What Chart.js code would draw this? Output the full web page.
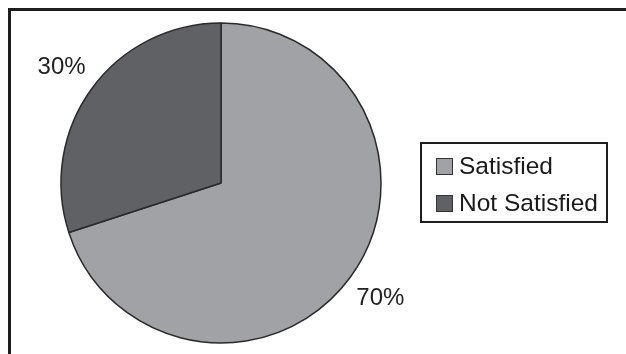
<!DOCTYPE html>
<html>
<head>
<meta charset="utf-8">
<script src="https://cdn.jsdelivr.net/npm/chart.js@4/dist/chart.umd.min.js"></script>
<style>
  html, body { margin: 0; padding: 0; background: #fff; }
  #wrap { position: relative; width: 626px; height: 354px; }
</style>
</head>
<body>
<div id="wrap"><canvas id="c" width="626" height="354"></canvas></div>
<script>
// Survey result: share of respondents
const categories = ['Satisfied', 'Not Satisfied'];
const shares = [70, 30];
const sliceColors = ['#a0a2a5', '#5f6164'];

const FONT = '"Liberation Sans", Arial, Helvetica, sans-serif';

// Open frame: top and left rule only
const framePlugin = {
  id: 'frame',
  beforeDraw(chart) {
    const ctx = chart.ctx;
    ctx.save();
    ctx.fillStyle = '#1e1e1e';
    ctx.fillRect(8, 8, chart.width - 8, 3);
    ctx.fillRect(8, 8, 3, chart.height - 8);
    ctx.restore();
  }
};

// Percentage labels placed outside each slice
const percentLabels = {
  id: 'percentLabels',
  afterDatasetsDraw(chart) {
    const ctx = chart.ctx;
    const meta = chart.getDatasetMeta(0);
    const values = chart.data.datasets[0].data;
    const total = values.reduce((a, b) => a + b, 0);
    ctx.save();
    ctx.font = '24px ' + FONT;
    ctx.fillStyle = '#222';
    ctx.textAlign = 'center';
    ctx.textBaseline = 'middle';
    meta.data.forEach((arc, i) => {
      const p = arc.getProps(['x', 'y', 'startAngle', 'endAngle', 'outerRadius'], true);
      const mid = (p.startAngle + p.endAngle) / 2;
      const r = p.outerRadius + 37;
      const pct = Math.round(values[i] / total * 100) + '%';
      ctx.fillText(pct, p.x + Math.cos(mid) * r, p.y + Math.sin(mid) * r);
    });
    ctx.restore();
  }
};

// Boxed legend to the right of the pie
const boxedLegend = {
  id: 'boxedLegend',
  afterDraw(chart) {
    const ctx = chart.ctx;
    const ds = chart.data.datasets[0];
    const bx = 421, by = 143, bw = 186, bh = 79;
    ctx.save();
    ctx.strokeStyle = '#1e1e1e';
    ctx.lineWidth = 2;
    ctx.strokeRect(bx, by, bw, bh);
    ctx.font = '24.5px ' + FONT;
    ctx.textBaseline = 'middle';
    chart.data.labels.forEach((label, i) => {
      const sy = 158 + i * 37;
      ctx.fillStyle = ds.backgroundColor[i];
      ctx.fillRect(436, sy, 17, 17);
      ctx.strokeStyle = '#333';
      ctx.lineWidth = 1;
      ctx.strokeRect(436.5, sy + 0.5, 16, 16);
      ctx.fillStyle = '#1a1a1a';
      ctx.fillText(label, 459, sy + 9);
    });
    ctx.restore();
  }
};

new Chart(document.getElementById('c'), {
  type: 'pie',
  data: {
    labels: categories,
    datasets: [{
      data: shares,
      backgroundColor: sliceColors,
      borderColor: '#2a2a2a',
      borderWidth: 1.5,
      radius: 160
    }]
  },
  options: {
    responsive: false,
    animation: false,
    events: [],
    layout: { padding: { left: 0, right: 184, top: 20, bottom: 8 } },
    plugins: {
      legend: { display: false },
      tooltip: { enabled: false }
    }
  },
  plugins: [framePlugin, percentLabels, boxedLegend]
});
</script>
</body>
</html>
